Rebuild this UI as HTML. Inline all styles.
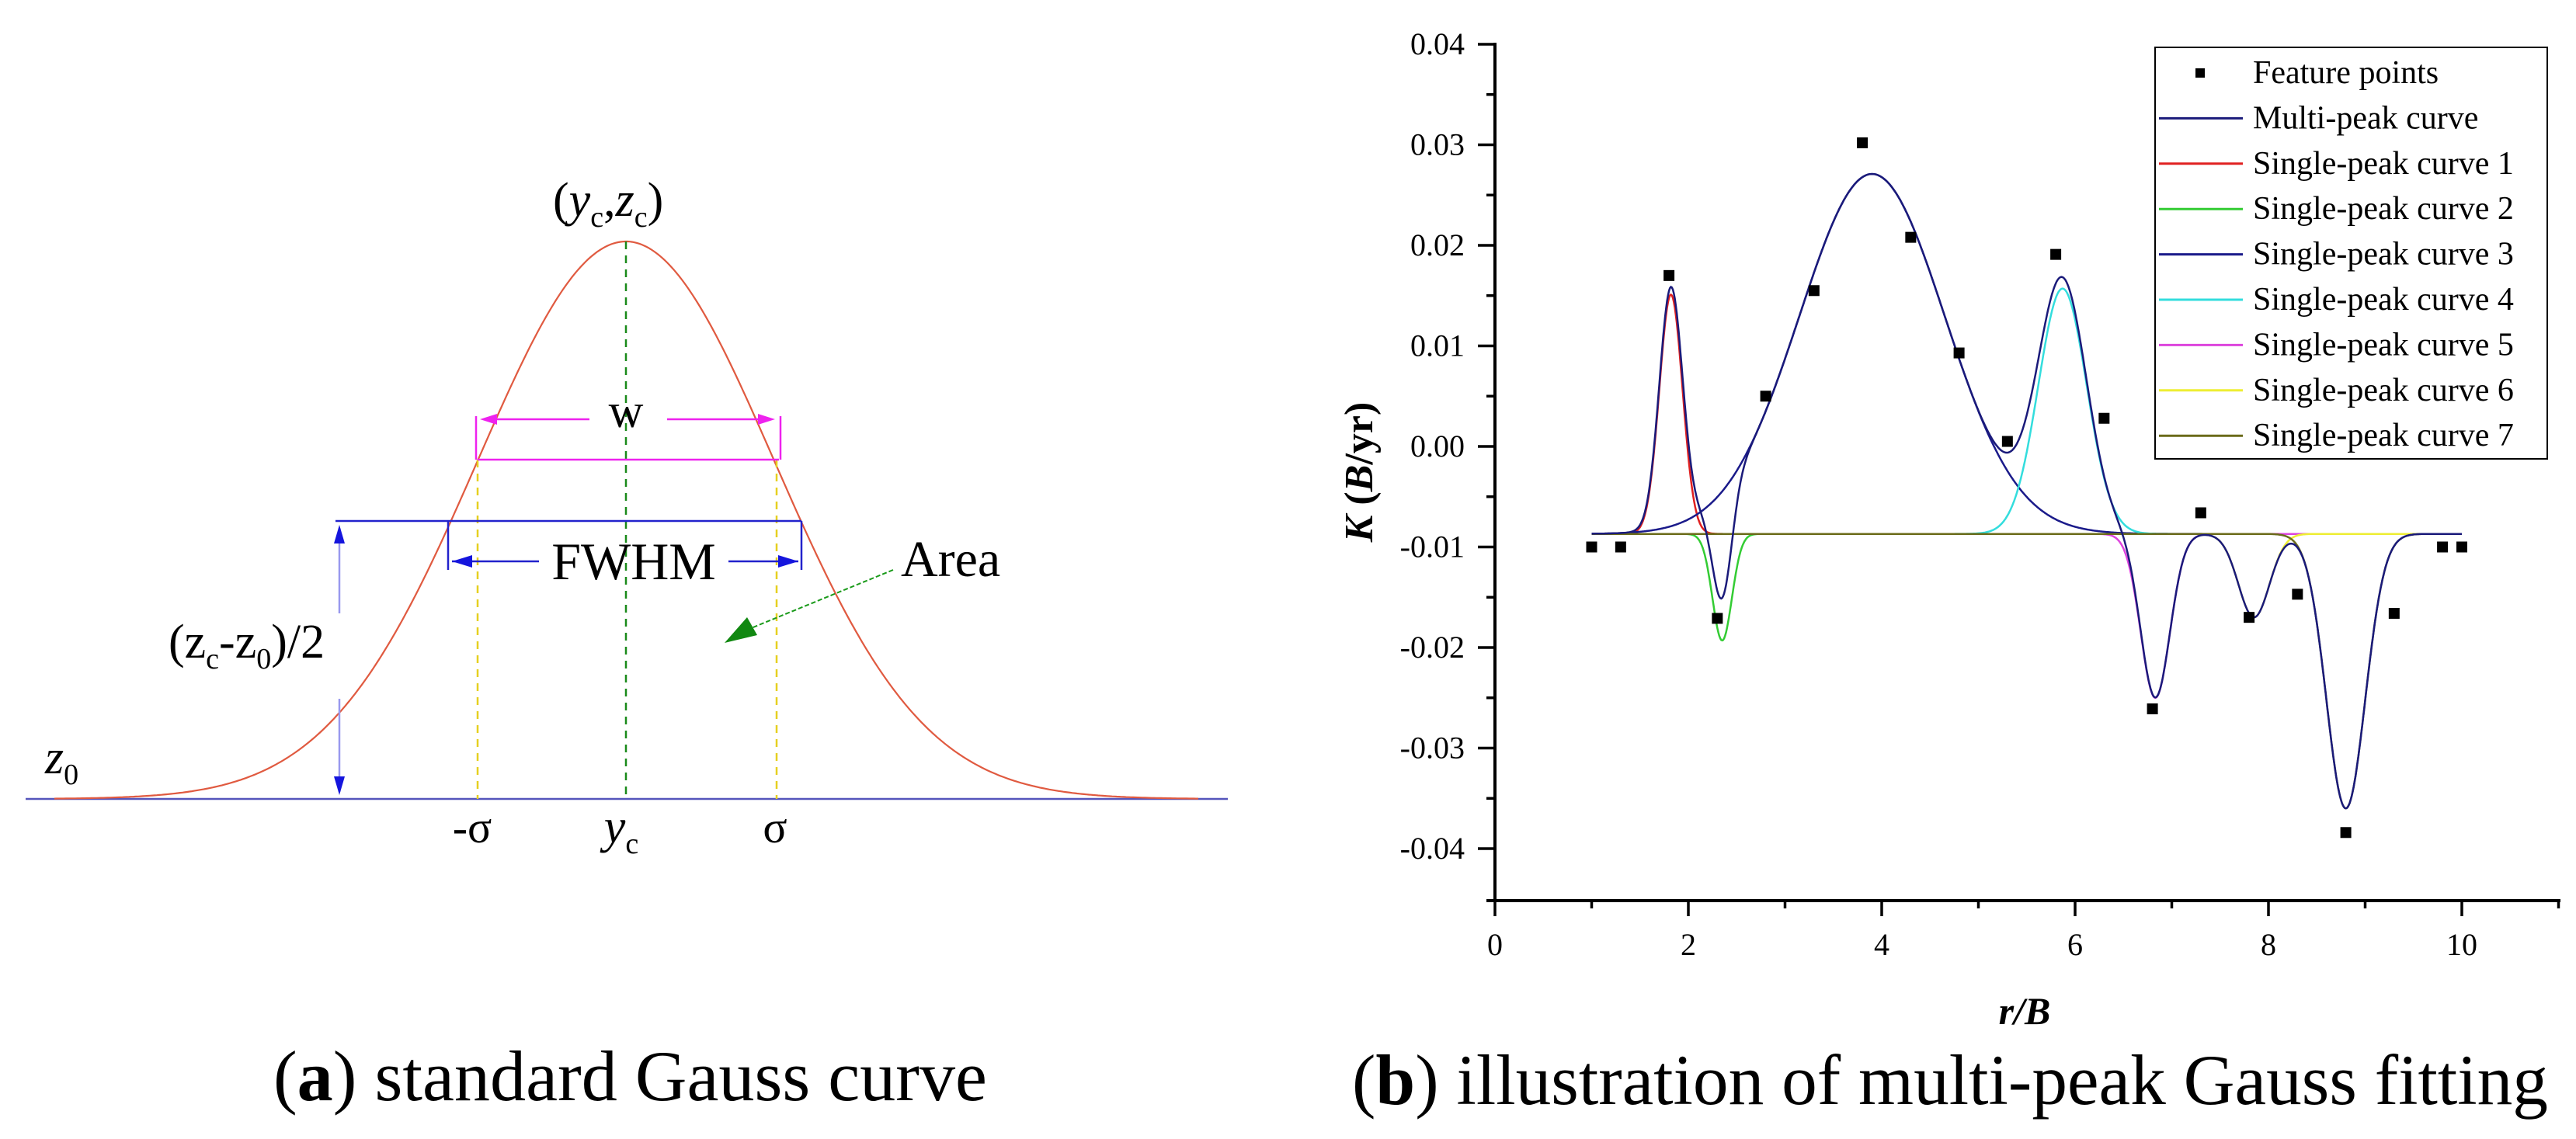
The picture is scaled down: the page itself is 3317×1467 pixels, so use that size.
<!DOCTYPE html>
<html><head><meta charset="utf-8"><style>
html,body{margin:0;padding:0;background:#fff}
svg{display:block}
text{font-family:"Liberation Serif",serif}
</style></head><body>
<svg id="fig" width="3317" height="1467" viewBox="0 0 3317 1467" xmlns="http://www.w3.org/2000/svg" font-family="Liberation Serif, serif">
<g id="panelA">
  <line x1="33" y1="1029" x2="1581" y2="1029" stroke="#5555bb" stroke-width="2.5"/>
  <path id="gaussA" fill="none" stroke="#e05a40" stroke-width="2.2"/>
  <line x1="806" y1="311" x2="806" y2="1029" stroke="#1a8a1a" stroke-width="2.5" stroke-dasharray="10,8"/>
  <line x1="615" y1="592" x2="615" y2="1029" stroke="#e6d020" stroke-width="2.5" stroke-dasharray="10,8"/>
  <line x1="1000" y1="592" x2="1000" y2="1029" stroke="#e6d020" stroke-width="2.5" stroke-dasharray="10,8"/>
  <g stroke="#ee22ee" stroke-width="2.5" fill="#ee22ee">
    <line x1="615" y1="592" x2="1003" y2="592"/>
    <line x1="613" y1="536" x2="613" y2="592"/>
    <line x1="1005" y1="536" x2="1005" y2="592"/>
    <line x1="625" y1="540" x2="759" y2="540"/>
    <line x1="859" y1="540" x2="990" y2="540"/>
    <polygon points="618,540 640,533 640,547" stroke="none"/>
    <polygon points="998,540 976,533 976,547" stroke="none"/>
  </g>
  <text x="806" y="550" font-size="62" text-anchor="middle">w</text>
  <g stroke="#2222cc" stroke-width="2.5" fill="#1515dd">
    <line x1="432" y1="671" x2="1032" y2="671"/>
    <line x1="577" y1="671" x2="577" y2="734"/>
    <line x1="1032" y1="671" x2="1032" y2="734"/>
    <line x1="582" y1="723" x2="694" y2="723"/>
    <line x1="938" y1="723" x2="1028" y2="723"/>
    <polygon points="582,723 608,715 608,731" stroke="none"/>
    <polygon points="1028,723 1002,715 1002,731" stroke="none"/>
  </g>
  <text x="816" y="746" font-size="68" text-anchor="middle">FWHM</text>
  <g stroke="#3030dd" stroke-width="2.5" fill="#1515dd">
    <line x1="437" y1="680" x2="437" y2="790" stroke="#9999ee"/>
    <line x1="437" y1="900" x2="437" y2="1020" stroke="#9999ee"/>
    <polygon points="437,676 430,700 444,700" stroke="none"/>
    <polygon points="437,1024 430,1000 444,1000" stroke="none"/>
  </g>
  <text x="217" y="847" font-size="62">(z<tspan font-size="38" dy="14">c</tspan><tspan dy="-14">-z</tspan><tspan font-size="38" dy="14">0</tspan><tspan dy="-14">)/2</tspan></text>
  <text x="58" y="996" font-size="62" font-style="italic">z<tspan font-size="38" font-style="normal" dy="14">0</tspan></text>
  <text x="712" y="278" font-size="62">(<tspan font-style="italic">y</tspan><tspan font-size="38" dy="14">c</tspan><tspan dy="-14">,</tspan><tspan font-style="italic">z</tspan><tspan font-size="38" dy="14">c</tspan><tspan dy="-14">)</tspan></text>
  <text x="608" y="1085" font-size="58" text-anchor="middle" font-family="Liberation Sans, sans-serif">-σ</text>
  <text x="800" y="1085" font-size="62" font-style="italic" text-anchor="middle">y<tspan font-size="38" font-style="normal" dy="14">c</tspan></text>
  <text x="998" y="1085" font-size="58" text-anchor="middle" font-family="Liberation Sans, sans-serif">σ</text>
  <text x="1160" y="742" font-size="66">Area</text>
  <g>
    <line x1="1150" y1="734" x2="960" y2="812" stroke="#1a9a1a" stroke-width="2" stroke-dasharray="6,3"/>
    <polygon points="933,828 962,795 975,818" fill="#118811"/>
  </g>
  <text x="352" y="1417" font-size="92" textLength="919" lengthAdjust="spacingAndGlyphs">(<tspan font-weight="bold">a</tspan>) standard Gauss curve</text>
</g>
<g id="panelB">
  <g id="curves"></g>
  <g id="points"></g>
  <g id="axes"></g>
  <text x="2607" y="1319" font-size="50" font-weight="bold" font-style="italic" text-anchor="middle">r/B</text>
  <text transform="translate(1767,608) rotate(-90)" font-size="52" font-weight="bold" text-anchor="middle"><tspan font-style="italic">K</tspan> (<tspan font-style="italic">B</tspan>/yr)</text>
  <g id="legend"></g>
  <text x="1741" y="1422" font-size="92" textLength="1540" lengthAdjust="spacingAndGlyphs">(<tspan font-weight="bold">b</tspan>) illustration of multi-peak Gauss fitting</text>
</g>
</svg>
<script>
// ---- chart data ----
const pointX = [1.0,1.3,1.8,2.3,2.8,3.3,3.8,4.3,4.8,5.3,5.8,6.3,6.8,7.3,7.8,8.3,8.8,9.3,9.8,10.0];
const pointY = [-0.010,-0.010,0.0170,-0.0171,0.0050,0.0155,0.0302,0.0208,0.0093,0.0005,0.0191,0.0028,-0.0261,-0.0066,-0.0170,-0.0147,-0.0384,-0.0166,-0.0100,-0.0100];
const baselineY0 = -0.0087;
const peakCenters = [1.82,2.35,3.9,5.87,6.83,7.85,8.8];
const peakAmps = [0.0238,-0.0106,0.0358,0.0244,-0.0163,-0.0083,-0.0273];
const peakWidths = [0.12,0.10,0.75,0.25,0.15,0.16,0.20];
const peakColors = ["#e02020","#33cc33","#1a1a8a","#33dddd","#dd44dd","#eeee33","#6b6b1a"];
const legendLabels = ["Feature points","Multi-peak curve","Single-peak curve 1","Single-peak curve 2","Single-peak curve 3","Single-peak curve 4","Single-peak curve 5","Single-peak curve 6","Single-peak curve 7"];
const xTicks = [0,2,4,6,8,10];
const yTicks = [0.04,0.03,0.02,0.01,0.00,-0.01,-0.02,-0.03,-0.04];
const yTickLabels = ["0.04","0.03","0.02","0.01","0.00","-0.01","-0.02","-0.03","-0.04"];

const NS="http://www.w3.org/2000/svg";
const X0=1925, XS=124.5, Y0=57, YS=12950;
function sx(v){return X0+v*XS;}
function sy(v){return Y0+(0.04-v)*YS;}
function mk(tag,attrs,parent){const e=document.createElementNS(NS,tag);for(const k in attrs)e.setAttribute(k,attrs[k]);parent.appendChild(e);return e;}
function g(i,x){return peakAmps[i]*Math.exp(-0.5*Math.pow((x-peakCenters[i])/peakWidths[i],2));}

(function(){
  let d="";
  for(let x=70;x<=1545;x+=3){const y=1029-718*Math.exp(-0.5*Math.pow((x-806)/191,2));d+=(x===70?"M":"L")+x+","+y.toFixed(1);}
  document.getElementById("gaussA").setAttribute("d",d);
})();

const curves=document.getElementById("curves");
for(let i=0;i<peakCenters.length;i++){
  let d="";
  for(let k=0;k<=900;k++){const x=1+k*0.01;d+=(k?"L":"M")+sx(x).toFixed(1)+","+sy(baselineY0+g(i,x)).toFixed(1);}
  const p=mk("path",{d:d,fill:"none",stroke:peakColors[i],"stroke-width":2.5},curves);
  
  
}
(function(){
  let d="";
  for(let k=0;k<=900;k++){const x=1+k*0.01;let v=baselineY0;for(let i=0;i<peakCenters.length;i++)v+=g(i,x);d+=(k?"L":"M")+sx(x).toFixed(1)+","+sy(v).toFixed(1);}
  const p=mk("path",{d:d,fill:"none",stroke:"#1a1a7a","stroke-width":2.5},curves);
  
  
})();
const pts=document.getElementById("points");
for(let i=0;i<pointX.length;i++){
  const r=mk("rect",{x:sx(pointX[i])-7,y:sy(pointY[i])-7,width:14,height:14,fill:"#000"},pts);
  
  
}
const ax=document.getElementById("axes");
const yl=mk("line",{x1:X0,y1:Y0-2,x2:X0,y2:1162,stroke:"#000","stroke-width":4},ax);


const xl=mk("line",{x1:1914,y1:1160,x2:3297,y2:1160,stroke:"#000","stroke-width":4},ax);


for(let i=0;i<yTicks.length;i++){
  const y=sy(yTicks[i]);
  mk("line",{x1:1903,y1:y,x2:X0,y2:y,stroke:"#000","stroke-width":3.5},ax);
  const t=mk("text",{x:1886,y:y+13,"font-size":40,"text-anchor":"end","font-family":"Liberation Serif, serif"},ax);
  t.textContent=yTickLabels[i];
  
  
  if(i<yTicks.length-1){const ym=sy(yTicks[i]-0.005);mk("line",{x1:1914,y1:ym,x2:X0,y2:ym,stroke:"#000","stroke-width":3.5},ax);}
}
for(let i=0;i<xTicks.length;i++){
  const x=sx(xTicks[i]);
  mk("line",{x1:x,y1:1160,x2:x,y2:1180,stroke:"#000","stroke-width":3.5},ax);
  const xm=sx(xTicks[i]+1);mk("line",{x1:xm,y1:1160,x2:xm,y2:1170,stroke:"#000","stroke-width":3.5},ax);
  const t=mk("text",{x:x,y:1230,"font-size":40,"text-anchor":"middle","font-family":"Liberation Serif, serif"},ax);
  t.textContent=String(xTicks[i]);
  
  
}
const lg=document.getElementById("legend");
mk("rect",{x:2775,y:61,width:505,height:530,fill:"#fff",stroke:"#000","stroke-width":2},lg);
const legColors=["#000","#1a1a7a"].concat(peakColors);
for(let i=0;i<legendLabels.length;i++){
  const y=94+i*58.4;
  if(i===0){mk("rect",{x:2827,y:y-6,width:12,height:12,fill:"#000"},lg);}
  else{mk("line",{x1:2780,y1:y,x2:2888,y2:y,stroke:legColors[i],"stroke-width":3},lg);}
  const t=mk("text",{x:2901,y:y+13,"font-size":42,"font-family":"Liberation Serif, serif"},lg);
  t.textContent=legendLabels[i];
  
  
}
</script>
</body></html>
